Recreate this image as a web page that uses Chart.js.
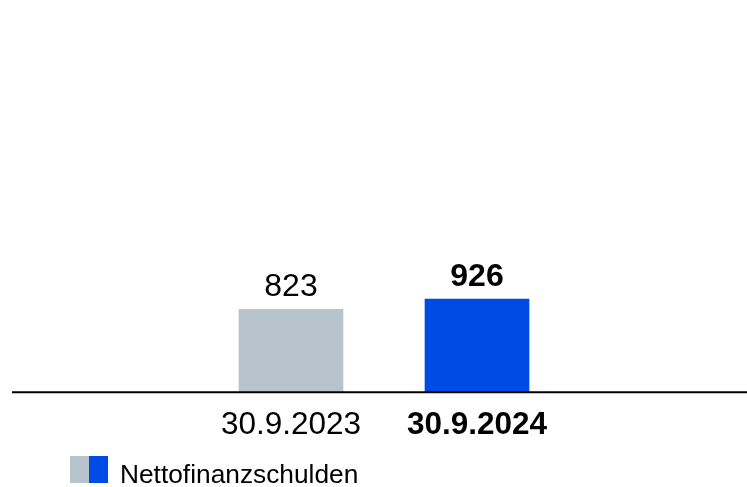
<!DOCTYPE html>
<html>
<head>
	<meta charset="utf-8">
	<title>Nettofinanzschulden</title>
	<script src="https://cdn.jsdelivr.net/npm/chart.js@4.4.1/dist/chart.umd.min.js"></script>
	<style>
		html, body { margin: 0; padding: 0; background: #fff; }
		#wrap { position: relative; width: 747px; height: 487px; }
		#legend { position: absolute; left: 70px; top: 456px; height: 27px; display: flex; align-items: flex-end;
			font-family: "Liberation Sans", Arial, sans-serif; font-size: 26.3px; line-height: 1; color: #000; }
		#legend .sw { display: inline-block; width: 19px; height: 27px; }
		#legend .txt { margin-left: 12px; position: relative; top: 4px; }
	</style>
</head>
<body>
<div id="wrap">
	<canvas id="chart" width="747" height="487"></canvas>
	<div id="legend"></div>
</div>

<script>
	// daten
	var kategorien = ["30.9.2023", "30.9.2024"];
	var werte = [823, 926];
	var farben = ["#b8c4cc", "#004be6"];
	var serie = "Nettofinanzschulden";
	var yMax = 3900;

	var schrift = '"Liberation Sans", Arial, sans-serif';

	// legende (zwei farbfelder + text)
	var legend = document.getElementById('legend');
	farben.forEach(function (f) {
		var s = document.createElement('span');
		s.className = 'sw';
		s.style.background = f;
		legend.appendChild(s);
	});
	var t = document.createElement('span');
	t.className = 'txt';
	t.textContent = serie;
	legend.appendChild(t);

	// grundlinie ueber die ganze breite
	var grundlinie = {
		id: 'grundlinie',
		afterDatasetsDraw: function (chart) {
			var ctx = chart.ctx;
			var y = chart.scales.y.getPixelForValue(0);
			ctx.save();
			ctx.strokeStyle = '#000';
			ctx.lineWidth = 2;
			ctx.beginPath();
			ctx.moveTo(12, y);
			ctx.lineTo(chart.width, y);
			ctx.stroke();
			ctx.restore();
		}
	};

	// werte ueber den balken
	var wertLabels = {
		id: 'wertLabels',
		afterDatasetsDraw: function (chart) {
			var ctx = chart.ctx;
			var meta = chart.getDatasetMeta(0);
			ctx.save();
			ctx.fillStyle = '#000';
			ctx.textAlign = 'center';
			ctx.textBaseline = 'alphabetic';
			meta.data.forEach(function (bar, i) {
				ctx.font = (i === 1 ? 'bold ' : '') + '32px ' + schrift;
				ctx.fillText(werte[i].toLocaleString('de-DE'), bar.x, bar.y - 13.5);
			});
			ctx.restore();
		}
	};

	var canvas = document.getElementById('chart').getContext('2d');
	window.bar = new Chart(canvas, {
		type: 'bar',
		data: {
			labels: kategorien,
			datasets: [{
				label: serie,
				data: werte,
				backgroundColor: farben,
				borderWidth: 0,
				barThickness: 104
			}]
		},
		options: {
			responsive: false,
			animation: false,
			layout: { padding: { left: 198, right: 177, top: 0, bottom: 29 } },
			plugins: {
				legend: { display: false },
				tooltip: { enabled: false }
			},
			scales: {
				x: {
					grid: { display: false, drawTicks: false },
					border: { display: false },
					ticks: {
						padding: 14,
						color: '#000',
						font: function (c) {
							return { family: schrift, size: 31.5, weight: c.index === 1 ? 'bold' : 'normal', lineHeight: 1.2 };
						}
					}
				},
				y: {
					display: false,
					min: 0,
					max: yMax
				}
			}
		},
		plugins: [grundlinie, wertLabels]
	});
</script>
</body>
</html>
